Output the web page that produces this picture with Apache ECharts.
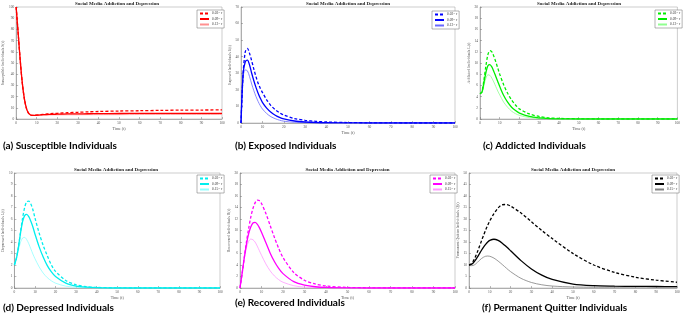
<!DOCTYPE html>
<html><head><meta charset="utf-8">
<script src="https://cdn.jsdelivr.net/npm/echarts@6/dist/echarts.min.js"></script>
<style>html,body{margin:0;padding:0;background:#fff}#c{width:683px;height:322px}</style>
</head><body><div id="c"></div>
<script>
// time points (t)
const T = [0,1,2,3,4,5,6,7,8,9,10,12,14,16,18,20,25,30,35,40,50,60,70,80,90,100];

// (a) Susceptible S(t)
const S_dash  = [100,76,52,32,18,9.5,5.2,3.6,3.2,3.3,3.5,3.9,4.3,4.6,4.9,5.1,5.6,6.0,6.4,6.7,7.1,7.4,7.7,7.9,8.0,8.1];
const S_solid = [100,76,52,32,18,9.5,5.2,3.6,3.2,3.3,3.4,3.7,3.9,4.1,4.2,4.3,4.5,4.6,4.7,4.8,4.9,5.0,5.0,5.0,5.0,5.0];
const S_thin  = [100,76,52,32,18,9.5,5.2,3.6,3.2,3.2,3.3,3.4,3.5,3.6,3.7,3.7,3.8,3.8,3.9,3.9,3.9,4.0,4.0,4.0,4.0,4.0];
// (b) Exposed E(t)
const E_dash  = [0,30,43,45,42,37.5,32.5,28,24,21,18.5,14,10.5,8,6.2,4.8,2.7,1.6,1.0,0.6,0.25,0.1,0.04,0,0,0];
const E_solid = [0,30,37,38,35,30,25.5,21.5,18,15,12.5,9,6.5,4.7,3.4,2.5,1.2,0.6,0.3,0.15,0.05,0,0,0,0,0];
const E_thin  = [0,28,32,31.5,28,23.5,19.5,16,13,10.5,8.5,5.7,3.8,2.6,1.7,1.1,0.45,0.2,0.1,0.05,0,0,0,0,0,0];
// (c) Addicted
const A_dash  = [4.5,4.9,7.0,9.5,11.5,12.2,12.0,11.2,10.2,9.1,8.0,6.1,4.6,3.4,2.5,1.8,0.9,0.45,0.2,0.1,0.03,0,0,0,0,0];
const A_solid = [4.5,4.8,6.5,8.3,9.5,9.7,9.3,8.5,7.6,6.7,5.8,4.2,3.0,2.1,1.5,1.05,0.45,0.2,0.08,0.03,0,0,0,0,0,0];
const A_thin  = [4.5,4.7,6.0,7.3,7.9,7.8,7.3,6.6,5.8,5.0,4.3,3.0,2.1,1.4,0.95,0.65,0.25,0.1,0.04,0.01,0,0,0,0,0,0];
// (d) Depressed
const D_dash  = [2.0,2.6,3.6,4.9,6.1,7.0,7.5,7.55,7.3,6.8,6.1,4.8,3.7,2.8,2.0,1.45,0.65,0.28,0.12,0.05,0.01,0,0,0,0,0];
const D_solid = [2.0,2.6,3.6,4.8,5.8,6.3,6.4,6.2,5.8,5.3,4.7,3.6,2.7,1.95,1.4,1.0,0.42,0.17,0.07,0.03,0,0,0,0,0,0];
const D_thin  = [2.0,2.6,3.3,4.0,4.35,4.4,4.2,3.85,3.4,2.95,2.55,1.85,1.3,0.9,0.62,0.42,0.16,0.06,0.02,0.01,0,0,0,0,0,0];
// (e) Recovered
const R_dash  = [0,2.5,5.3,8.0,10.3,12.3,13.8,14.8,15.3,15.2,14.7,13.0,10.9,8.8,6.9,5.3,2.7,1.35,0.7,0.35,0.1,0.03,0,0,0,0];
const R_solid = [0,2.6,5.3,7.6,9.4,10.6,11.3,11.4,11.1,10.5,9.7,7.9,6.1,4.6,3.4,2.5,1.1,0.5,0.22,0.1,0.02,0,0,0,0,0];
const R_thin  = [0,2.6,5.1,7.0,8.1,8.5,8.4,8.0,7.3,6.5,5.7,4.2,3.0,2.1,1.45,1.0,0.4,0.15,0.06,0.02,0,0,0,0,0,0];
// (f) Permanent Quitter
const Q_dash  = [10,10.4,11.6,13.4,15.6,18.0,20.5,22.9,25.2,27.3,29.2,32.3,34.8,36.2,36.3,35.6,32.6,28.8,25.0,21.5,15.0,10.0,6.8,4.7,3.4,2.5];
const Q_solid = [10,10.2,10.9,12.0,13.4,14.9,16.4,17.8,19.0,20.0,20.7,21.2,20.7,19.5,17.9,16.2,11.9,8.3,5.6,3.7,1.7,1.0,0.8,0.7,0.65,0.6];
const Q_thin  = [10,9.7,9.8,10.3,11.1,12.0,12.8,13.4,13.8,13.9,13.8,13.0,11.7,10.2,8.6,7.1,4.2,2.4,1.4,0.85,0.45,0.35,0.35,0.4,0.45,0.5];

const legendA = ['0.03= r','0.09= r','0.12= r'];
const legendB = ['0.02= r','0.09= r','0.12= r'];
const legendC = ['0.03= r','0.09= r','0.12= r'];
const legendD = ['0.03= r','0.09= r','0.15= r'];
const legendE = ['0.03= r','0.09= r','0.15= r'];
const legendF = ['0.03= r','0.09= r','0.15= r'];

const captions = ['(a) Susceptible Individuals','(b) Exposed Individuals','(c) Addicted Individuals',
                  '(d) Depressed Individuals','(e) Recovered Individuals','(f) Permanent Quitter Individuals'];
const yNames = ['Susceptible Individuals S(t)','Exposed Individuals E(t)','Addicted Individuals I\u2090(t)',
                'Depressed Individuals I\u2091(t)','Recovered Individuals R(t)','Permanent Quitter Individuals Q(t)'];
const chartTitle = 'Social Media Addiction and Depression';

// layout / style (not data)
const panels = [
  {g:[12,7,210,112],   yMax:100, yInt:10, data:[S_dash,S_solid,S_thin], c:['#ff0000','#ff0000','#ff9090'], lg:legendA, lp:[197,10], cap:[3,141]},
  {g:[241,7,214,116],  yMax:70,  yInt:10, data:[E_dash,E_solid,E_thin], c:['#0000ff','#0000ff','#6a6aff'], lg:legendB, lp:[432,11], cap:[235,141]},
  {g:[480,7,198,112],  yMax:20,  yInt:2,  data:[A_dash,A_solid,A_thin], c:['#00ee00','#00ee00','#90ff90'], lg:legendC, lp:[655,10], cap:[483,141]},
  {g:[12,173,208,115], yMax:10,  yInt:1,  data:[D_dash,D_solid,D_thin], c:['#00eeee','#00eeee','#90ffff'], lg:legendD, lp:[197,175], cap:[3,303]},
  {g:[240,173,215,115],yMax:20,  yInt:2,  data:[R_dash,R_solid,R_thin], c:['#ff00ff','#ff00ff','#ff9aff'], lg:legendE, lp:[430,175], cap:[235,298]},
  {g:[469,173,208,115],yMax:50,  yInt:5,  data:[Q_dash,Q_solid,Q_thin], c:['#000000','#000000','#808080'], lg:legendF, lp:[652,175], cap:[482,303]}
];

const grid=[], xAxis=[], yAxis=[], series=[], legend=[], title=[];
const nameMap = {};
panels.forEach((p,i)=>{
  grid.push({left:p.g[0], top:p.g[1], width:p.g[2], height:p.g[3], show:true, borderColor:'#9a9a9a', borderWidth:0.5, backgroundColor:'#fff'});
  const axCommon = {
    axisLine:{show:true, lineStyle:{color:'#777', width:0.5}},
    axisTick:{show:true, inside:true, length:2, lineStyle:{color:'#777', width:0.5}},
    splitLine:{show:false},
    axisLabel:{fontSize:3.5, color:'#555', fontFamily:'Liberation Serif', margin:2},
    nameTextStyle:{fontSize:4, color:'#555', fontFamily:'Liberation Serif'}
  };
  xAxis.push(Object.assign({type:'value', gridIndex:i, min:0, max:100, interval:10,
    name:'Time (t)', nameLocation:'middle', nameGap:8}, axCommon));
  yAxis.push(Object.assign({type:'value', gridIndex:i, min:0, max:p.yMax, interval:p.yInt,
    name:yNames[i], nameLocation:'middle', nameGap:9}, axCommon));
  const names=[];
  p.data.forEach((arr,k)=>{
    const nm = 'p'+i+'s'+k;
    names.push(nm);
    nameMap[nm] = p.lg[k];
    series.push({
      type:'line', name:nm, xAxisIndex:i, yAxisIndex:i, symbol:'circle', showSymbol:false, smooth:0.3,
      data: T.map((t,j)=>[t, arr[j]]),
      lineStyle:{color:p.c[k], width: k===2 ? 0.8 : 1.3, type: k===0 ? [3,2] : 'solid'},
      itemStyle:{color:p.c[k]},
      animation:false, silent:true, z: 3-k
    });
  });
  legend.push({
    data:names, left:p.lp[0], top:p.lp[1], orient:'vertical', itemWidth:9, itemHeight:3, itemGap:1.5,
    padding:[1.5,2], borderColor:'#666', borderWidth:0.5, backgroundColor:'#fff',
    itemStyle:{opacity:0},
    lineStyle:{opacity:1},
    textStyle:{fontSize:3.5, color:'#333', fontFamily:'Liberation Serif', padding:[0,0,0,-2]},
    formatter:(n)=>nameMap[n], selectedMode:false
  });
  title.push({text:chartTitle, left:p.g[0]+p.g[2]/2, top:p.g[1]-6, textAlign:'center', padding:0,
    textStyle:{fontSize:5, fontWeight:'bold', color:'#222', fontFamily:'Liberation Serif'}});
  title.push({text:captions[i], left:p.cap[0], top:p.cap[1], padding:0,
    textStyle:{fontSize:10, fontWeight:'bold', color:'#000', fontFamily:'Lato'}});
});

const chart = echarts.init(document.getElementById('c'), null, {renderer:'canvas'});
chart.setOption({animation:false, backgroundColor:'#fff', grid, xAxis, yAxis, series, legend, title});
</script></body></html>
